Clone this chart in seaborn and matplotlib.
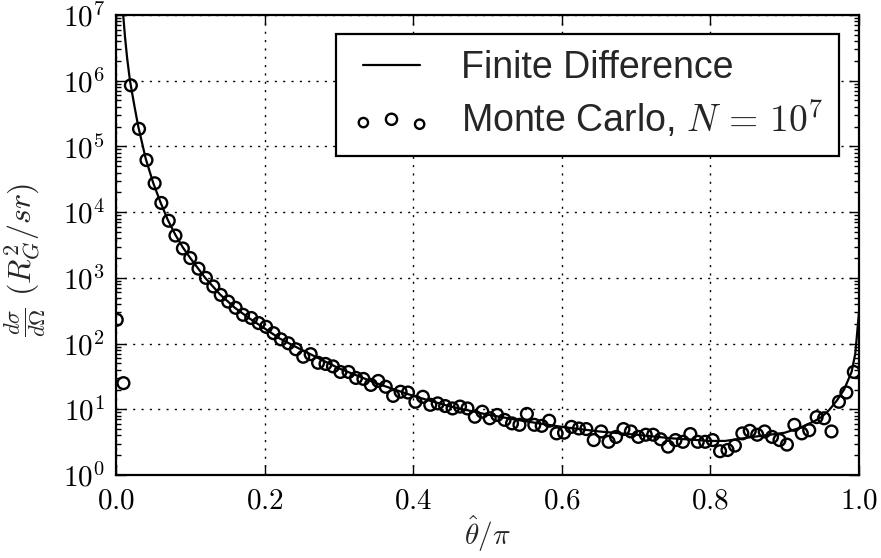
import numpy as np
import pandas as pd
import seaborn as sns
import matplotlib
matplotlib.use("Agg")
import matplotlib.pyplot as plt
from matplotlib.ticker import FixedLocator, FuncFormatter, LogLocator, NullFormatter
from matplotlib.collections import PathCollection
from matplotlib.legend_handler import HandlerPathCollection

# ---- data ----
fd_x = [0.0085, 0.0097, 0.012, 0.015, 0.0188, 0.025, 0.03, 0.04, 0.05, 0.06, 0.07, 0.08,
        0.09, 0.10, 0.12, 0.14, 0.16, 0.18, 0.20, 0.22, 0.25, 0.30, 0.35, 0.40, 0.45,
        0.50, 0.55, 0.60, 0.65, 0.70, 0.75, 0.80, 0.82, 0.85, 0.88, 0.90, 0.92, 0.94,
        0.95, 0.96, 0.97, 0.98, 0.99, 0.995, 1.0]
fd_y = [2.0e7, 1.0e7, 4.8e6, 2.2e6, 1.0e6, 4.0e5, 2.0e5, 6.5e4, 2.8e4, 1.4e4, 7500, 4500,
        2900, 2000, 1000, 560, 350, 240, 170, 120, 80, 42, 25, 16, 11,
        8.3, 6.6, 5.4, 4.6, 4.1, 3.6, 3.3, 3.3, 3.7, 4.1, 4.4, 5.2, 6.6,
        7.7, 9.8, 13.5, 20, 37, 70, 300]

mc_x = [0.001, 0.010, 0.020, 0.031, 0.041, 0.052, 0.061, 0.071, 0.080, 0.090,
        0.100, 0.111, 0.121, 0.131, 0.141, 0.151, 0.161, 0.171, 0.182, 0.192,
        0.202, 0.212, 0.222, 0.232, 0.242, 0.252, 0.262, 0.272, 0.282, 0.292,
        0.302, 0.313, 0.323, 0.333, 0.343, 0.353, 0.363, 0.373, 0.383, 0.393,
        0.403, 0.413, 0.423, 0.433, 0.443, 0.453, 0.463, 0.473, 0.483, 0.493,
        0.503, 0.513, 0.523, 0.533, 0.543, 0.553, 0.563, 0.573, 0.583, 0.593,
        0.603, 0.613, 0.623, 0.633, 0.643, 0.653, 0.663, 0.673, 0.683, 0.693,
        0.703, 0.713, 0.723, 0.733, 0.743, 0.753, 0.763, 0.773, 0.783, 0.793,
        0.803, 0.813, 0.823, 0.833, 0.843, 0.853, 0.863, 0.873, 0.883, 0.893,
        0.903, 0.913, 0.923, 0.933, 0.943, 0.953, 0.963, 0.973, 0.983, 0.993]
mc_y = [230, 25, 8.5e5, 1.85e5, 6.2e4, 2.75e4, 1.38e4, 7400, 4400, 2800,
        2000, 1380, 1000, 740, 550, 435, 350, 274, 245, 205,
        180, 144, 116, 101, 82, 63, 69, 51, 49, 45,
        37, 37, 30, 29, 23.5, 27, 22, 16, 18.5, 18,
        13, 15.5, 11.7, 12.3, 11.2, 10.3, 11, 10.3, 7.7, 9.2,
        7.3, 8.2, 6.9, 6.1, 5.8, 8.5, 5.8, 5.6, 6.7, 4.3,
        4.4, 5.4, 5.1, 5.0, 3.4, 4.6, 3.2, 3.8, 5.0, 4.6,
        3.8, 4.1, 4.1, 3.5, 2.7, 3.4, 3.2, 4.2, 3.2, 3.2,
        3.4, 2.3, 2.4, 2.8, 4.3, 4.7, 4.1, 4.6, 3.8, 3.4,
        2.9, 5.8, 4.3, 4.8, 7.6, 7.3, 4.6, 13, 18, 37]

x_ticks = [0.0, 0.2, 0.4, 0.6, 0.8, 1.0]
y_exponents = [0, 1, 2, 3, 4, 5, 6, 7]

sns.set_style("white")
plt.rcParams["font.family"] = ["Liberation Sans", "DejaVu Sans"]
plt.rcParams["mathtext.fontset"] = "cm"

fig = plt.figure(figsize=(8.81, 5.58), dpi=100)
ax = fig.add_axes([116 / 881, 1 - 475 / 558, 743 / 881, 460 / 558])

fd = pd.DataFrame({"x": fd_x, "y": fd_y})
mc = pd.DataFrame({"x": mc_x, "y": mc_y})

sns.lineplot(data=fd, x="x", y="y", ax=ax, color="black", linewidth=1.6,
             label="Finite Difference", zorder=2)
sns.scatterplot(data=mc, x="x", y="y", ax=ax, marker="o", s=72,
                facecolor="none", edgecolor="black", linewidth=1.7,
                label=r"Monte Carlo, $N\,=\,10^7$", zorder=3, clip_on=True)

ax.set_yscale("log")
ax.set_xlim(0, 1)
ax.set_ylim(1, 1e7)

ax.xaxis.set_major_locator(FixedLocator(x_ticks))
ax.xaxis.set_major_formatter(FuncFormatter(lambda v, p: r"$%.1f$" % v))
ax.yaxis.set_major_locator(FixedLocator([10.0 ** e for e in y_exponents]))
ax.yaxis.set_major_formatter(FuncFormatter(lambda v, p: r"$10^{%d}$" % int(round(np.log10(v)))))
ax.yaxis.set_minor_locator(LogLocator(base=10, subs=np.arange(2, 10), numticks=20))
ax.yaxis.set_minor_formatter(NullFormatter())

ax.tick_params(which="both", direction="in", top=True, right=True, bottom=True, left=True,
               colors="black", width=1.0)
ax.tick_params(which="major", length=7, labelsize=21, pad=8)
ax.tick_params(which="minor", length=3.5)

for s in ax.spines.values():
    s.set_linewidth(1.6)
    s.set_color("black")

ax.grid(True, which="major", linestyle=(0, (1.5, 4.5)), color="black", linewidth=1.0)

ax.set_xlabel(r"$\hat{\theta}/\pi$", fontsize=21, labelpad=0)
ax.set_ylabel(r"$\frac{d\sigma}{d\Omega}\ (R_G^2/sr)$", fontsize=23)
ax.yaxis.set_label_coords(-0.092, 0.468)

leg = ax.legend(loc="upper right", bbox_to_anchor=(0.973, 0.9587), fontsize=27,
                frameon=True, fancybox=False, framealpha=1, edgecolor="black",
                borderaxespad=0, handlelength=2.1, labelspacing=0.35,
                borderpad=0.42, handletextpad=0.8, numpoints=2, scatterpoints=3,
                scatteryoffsets=[0.375, 0.5, 0.3125],
                handler_map={PathCollection: HandlerPathCollection(sizes=[45, 65, 45])})
leg.get_frame().set_linewidth(1.6)

fig.savefig("out.png", dpi=100)
